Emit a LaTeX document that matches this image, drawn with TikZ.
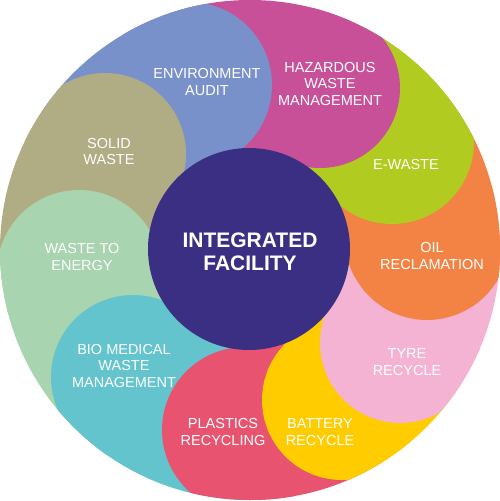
\documentclass[tikz,border=0pt]{standalone}
\usepackage{fontspec}
\setmainfont{Liberation Sans}
\definecolor{cnavy}{HTML}{3A2F82}
\definecolor{cblue}{HTML}{7891CA}
\definecolor{cmagenta}{HTML}{C85098}
\definecolor{cgreen}{HTML}{B1CB20}
\definecolor{corange}{HTML}{F28344}
\definecolor{cpink}{HTML}{F4B3D2}
\definecolor{cyellow}{HTML}{FFCC00}
\definecolor{cred}{HTML}{E8546F}
\definecolor{ccyan}{HTML}{63C4CE}
\definecolor{clgreen}{HTML}{A8D4AF}
\definecolor{ckhaki}{HTML}{B0AD84}
\begin{document}
\begin{tikzpicture}[x=1pt,y=1pt,
  lbl/.style={text=white, font=\fontsize{14.5}{16.8}\selectfont, align=center, inner sep=0pt},
  ctr/.style={text=white, font=\fontsize{21}{23.5}\selectfont\bfseries, align=center, inner sep=0pt}]
\useasboundingbox (-250,-251) rectangle (250,250);
\fill[white] (-250,-251) rectangle (250,250);
\begin{scope}
  \clip (0,0) circle[radius=250];
  % outer sectors
  \fill[corange]  (0,0) -- (3.9:300)   arc[start angle=3.9,  end angle=37.3,  radius=300] -- cycle;
  \fill[cgreen]   (0,0) -- (37.3:300)  arc[start angle=37.3, end angle=66.6,  radius=300] -- cycle;
  \fill[cmagenta] (0,0) -- (66.6:300)  arc[start angle=66.6, end angle=110.3, radius=300] -- cycle;
  \fill[cblue]    (0,0) -- (110.3:300) arc[start angle=110.3,end angle=146.5, radius=300] -- cycle;
  \fill[ckhaki]   (0,0) -- (146.5:300) arc[start angle=146.5,end angle=187.3, radius=300] -- cycle;
  \fill[clgreen]  (0,0) -- (187.3:300) arc[start angle=187.3,end angle=227.3, radius=300] -- cycle;
  \fill[ccyan]    (0,0) -- (227.3:300) arc[start angle=227.3,end angle=268.4, radius=300] -- cycle;
  \fill[cred]     (0,0) -- (268.4:300) arc[start angle=268.4,end angle=301.5, radius=300] -- cycle;
  \fill[cyellow]  (0,0) -- (301.5:300) arc[start angle=301.5,end angle=328.2, radius=300] -- cycle;
  \fill[cpink]    (0,0) -- (328.2:300) arc[start angle=328.2,end angle=363.9, radius=300] -- cycle;
  % petal circles
  \fill[corange]  (177,12)    circle[radius=82];
  \fill[cgreen]   (142,108)   circle[radius=82];
  \fill[cmagenta] (70,162)    circle[radius=80];
  \fill[cblue]    (-61,165)   circle[radius=83];
  \fill[ckhaki]   (-145,96)   circle[radius=81];
  \fill[clgreen]  (-171,-22)  circle[radius=82];
  \fill[ccyan]    (-117,-127) circle[radius=82];
  \fill[cred]     (-5,-180)   circle[radius=83];
  \fill[cyellow]  (92,-150)   circle[radius=80];
  \fill[cpink]    (150,-93)   circle[radius=80];
  \begin{scope}
    \clip (-260,-260) rectangle (260,15);
    \fill[corange] (177,12) circle[radius=82];
  \end{scope}
\end{scope}
\fill[cnavy] (-1,1) circle[radius=101];
\node[ctr] (center) at (0,-2) {INTEGRATED\\FACILITY};
\node[lbl] (env) at (-43,168) {ENVIRONMENT\\AUDIT};
\node[lbl] (haz) at (80,166) {HAZARDOUS\\WASTE\\MANAGEMENT};
\node[lbl] (ewaste) at (156,85) {E-WASTE};
\node[lbl] (oil) at (182,-6) {OIL\\RECLAMATION};
\node[lbl] (tyre) at (157,-112) {TYRE\\RECYCLE};
\node[lbl] (battery) at (70,-182) {BATTERY\\RECYCLE};
\node[lbl] (plastics) at (-27,-182) {PLASTICS\\RECYCLING};
\node[lbl] (bio) at (-126,-116) {BIO MEDICAL\\WASTE\\MANAGEMENT};
\node[lbl] (wte) at (-168,-7) {WASTE TO\\ENERGY};
\node[lbl] (solid) at (-141,98.5) {SOLID\\WASTE};
\end{tikzpicture}
\end{document}
